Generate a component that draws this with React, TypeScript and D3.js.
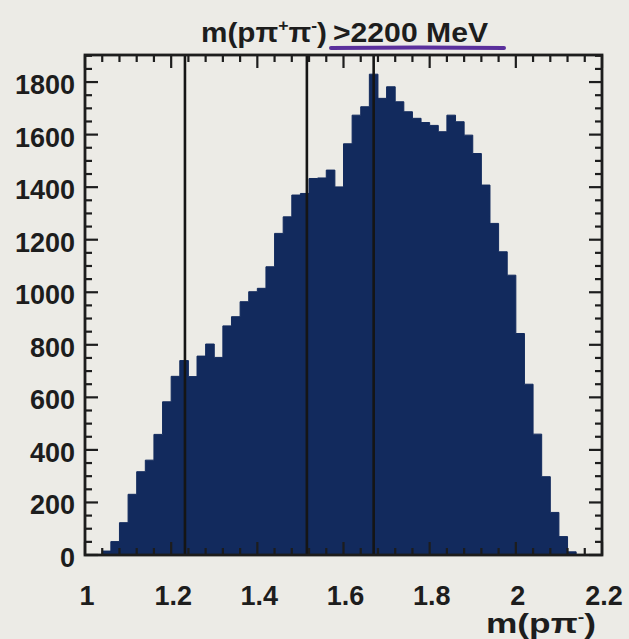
import React from "react";
import * as d3 from "d3";

// ---- data ----
const binStart = 1.04;
const binWidth = 0.02;
const counts = [
  15, 51, 123, 231, 317, 361, 459, 583, 680, 740,
  679, 757, 803, 752, 872, 907, 964, 1002, 1015, 1097,
  1224, 1287, 1370, 1376, 1433, 1435, 1465, 1401, 1565, 1674,
  1706, 1830, 1738, 1782, 1725, 1687, 1662, 1646, 1635, 1611,
  1674, 1649, 1598, 1528, 1408, 1262, 1154, 1065, 843, 650,
  460, 298, 162, 70, 12,
];
const markerLines = [1.232, 1.515, 1.67];
const xTickLabels = ["1", "1.2", "1.4", "1.6", "1.8", "2", "2.2"];
const xTickValues = [1, 1.2, 1.4, 1.6, 1.8, 2.0, 2.2];
const yTickValues = [0, 200, 400, 600, 800, 1000, 1200, 1400, 1600, 1800];
const xDomain = [1, 2.2];
const yDomain = [0, 1903];

const W = 629;
const H = 639;
const FONT = "'Liberation Sans', Arial, Helvetica, sans-serif";
const INK = "#1d1d1d";
const FILL = "#122a5d";

export default function App() {
  const x = d3.scaleLinear().domain(xDomain).range([85, 602]);
  const y = d3.scaleLinear().domain(yDomain).range([555, 55]);

  const bins = counts.map((c, i) => ({
    x0: binStart + i * binWidth,
    x1: binStart + (i + 1) * binWidth,
    c,
  }));

  // step outline path
  const pts: [number, number][] = [];
  pts.push([x(bins[0].x0), y(0)]);
  bins.forEach((b) => {
    pts.push([x(b.x0), y(b.c)]);
    pts.push([x(b.x1), y(b.c)]);
  });
  pts.push([x(bins[bins.length - 1].x1), y(0)]);
  const areaPath = d3.line()(pts) + "Z";

  const yMinor = d3.range(0, 1901, 50);
  const xMinor = d3.range(0, 31).map((i) => 1 + i * 0.04);

  const [x0, x1] = x.range();
  const [yb, yt] = y.range();

  return (
    <svg
      width={W}
      height={H}
      style={{ position: "absolute", left: 0, top: 0, background: "#ecebe6" }}
    >
      <rect x={0} y={0} width={W} height={H} fill="#ecebe6" />

      {/* histogram */}
      <path d={areaPath} fill={FILL} stroke={FILL} strokeWidth={1} />

      {/* marker lines */}
      {markerLines.map((m, i) => (
        <line
          key={i}
          x1={x(m)}
          x2={x(m)}
          y1={yb}
          y2={yt}
          stroke="#151515"
          strokeWidth={2.6}
        />
      ))}

      {/* y ticks, left and right */}
      {yMinor.map((v) => {
        const major = v % 200 === 0;
        const len = major ? 13 : 7;
        return (
          <g key={"y" + v}>
            <line x1={x0} x2={x0 + len} y1={y(v)} y2={y(v)} stroke={INK} strokeWidth={2.2} />
            <line x1={x1} x2={x1 - len} y1={y(v)} y2={y(v)} stroke={INK} strokeWidth={2.2} />
          </g>
        );
      })}

      {/* x ticks, top and bottom */}
      {xMinor.map((v, i) => {
        const major = i % 5 === 0;
        const len = major ? 13 : 7;
        return (
          <g key={"x" + i}>
            <line x1={x(v)} x2={x(v)} y1={yt} y2={yt + len} stroke={INK} strokeWidth={2.2} />
            <line x1={x(v)} x2={x(v)} y1={yb} y2={yb - len} stroke={INK} strokeWidth={2.2} />
          </g>
        );
      })}

      {/* frame */}
      <rect
        x={x0}
        y={yt}
        width={x1 - x0}
        height={yb - yt}
        fill="none"
        stroke={INK}
        strokeWidth={2.8}
      />

      {/* y labels */}
      {yTickValues.map((v) => (
        <text
          key={"yl" + v}
          x={75}
          y={y(v) + 3}
          textAnchor="end"
          dominantBaseline="central"
          fontFamily={FONT}
          fontWeight="bold"
          fontSize={27}
          fill={INK}
        >
          {v}
        </text>
      ))}

      {/* x labels */}
      {xTickValues.map((v, i) => (
        <text
          key={"xl" + i}
          x={x(v) + 2}
          y={605}
          textAnchor="middle"
          fontFamily={FONT}
          fontWeight="bold"
          fontSize={27}
          fill={INK}
        >
          {xTickLabels[i]}
        </text>
      ))}

      {/* title */}
      <text
        x={201}
        y={42}
        fontFamily={FONT}
        fontWeight="bold"
        fontSize={27}
        fill={INK}
        textLength={126}
        lengthAdjust="spacingAndGlyphs"
      >
        m(pπ
        <tspan fontSize={16} dy={-11}>+</tspan>
        <tspan dy={11}>π</tspan>
        <tspan fontSize={16} dy={-11}>-</tspan>
        <tspan dy={11}>)</tspan>
      </text>
      <text
        x={333}
        y={42}
        fontFamily={FONT}
        fontWeight="bold"
        fontSize={27}
        fill={INK}
        textLength={155}
        lengthAdjust="spacingAndGlyphs"
      >
        {">2200 MeV"}
      </text>
      <path
        d="M331,48 Q420,47 504,48"
        fill="none"
        stroke="#5a2f9c"
        strokeWidth={4}
        strokeLinecap="round"
      />

      {/* x axis title */}
      <text
        x={486}
        y={633}
        fontFamily={FONT}
        fontWeight="bold"
        fontSize={27}
        fill={INK}
        textLength={110}
        lengthAdjust="spacingAndGlyphs"
      >
        m(pπ
        <tspan fontSize={15} dy={-11}>-</tspan>
        <tspan dy={11}>)</tspan>
      </text>
    </svg>
  );
}
